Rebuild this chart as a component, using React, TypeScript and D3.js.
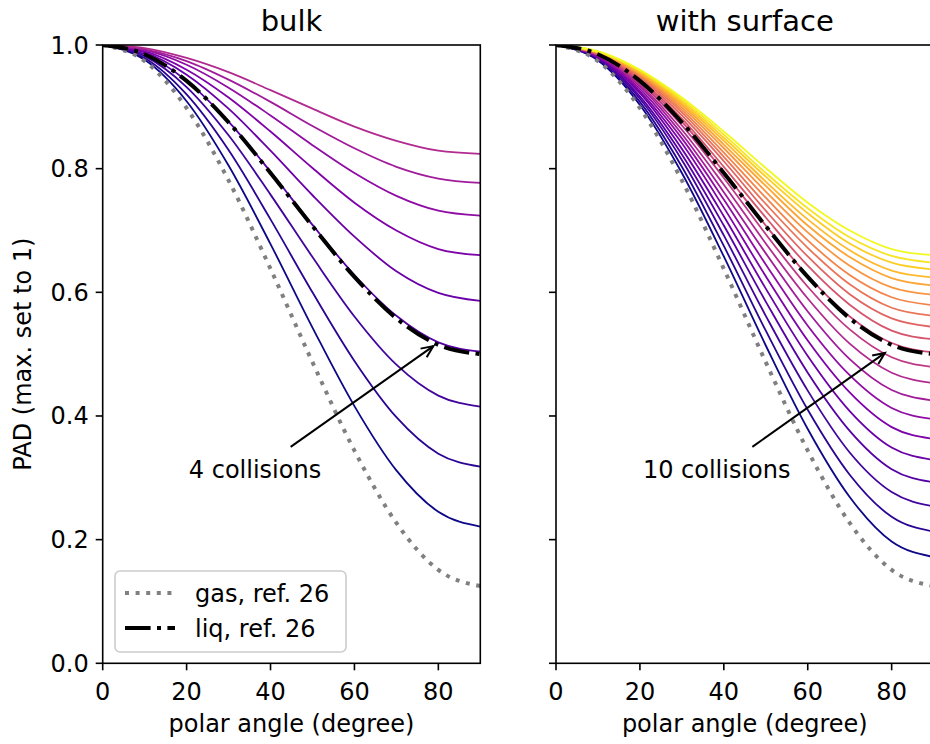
import React from 'react';
import * as d3 from 'd3';

const ANGLES = [0, 10, 20, 30, 40, 50, 60, 70, 80, 90];

// reference curves
const GAS = [1, 0.974, 0.898, 0.781, 0.638, 0.487, 0.344, 0.227, 0.151, 0.125];
const LIQ = [1, 0.985, 0.942, 0.875, 0.793, 0.707, 0.625, 0.558, 0.515, 0.5];

// bulk: 1 .. 9 collisions
const BULK = [
  [1, 0.976, 0.909, 0.805, 0.678, 0.543, 0.416, 0.312, 0.245, 0.221],
  [1, 0.979, 0.92, 0.83, 0.718, 0.6, 0.489, 0.398, 0.339, 0.318],
  [1, 0.982, 0.932, 0.854, 0.758, 0.657, 0.561, 0.483, 0.433, 0.415],
  [1, 0.985, 0.942, 0.876, 0.795, 0.709, 0.628, 0.562, 0.519, 0.504],
  [1, 0.988, 0.952, 0.897, 0.829, 0.757, 0.69, 0.634, 0.599, 0.586],
  [1, 0.99, 0.96, 0.915, 0.86, 0.801, 0.745, 0.7, 0.67, 0.66],
  [1, 0.992, 0.968, 0.931, 0.886, 0.838, 0.793, 0.756, 0.732, 0.724],
  [1, 0.993, 0.974, 0.944, 0.908, 0.869, 0.833, 0.803, 0.784, 0.777],
  [1, 0.995, 0.979, 0.956, 0.927, 0.897, 0.868, 0.845, 0.829, 0.824],
];

// with surface: 1 .. 21 collisions
const SURFACE = [
  [1, 0.975, 0.903, 0.793, 0.658, 0.514, 0.379, 0.269, 0.197, 0.172],
  [1, 0.976, 0.908, 0.803, 0.675, 0.538, 0.41, 0.305, 0.237, 0.213],
  [1, 0.978, 0.913, 0.814, 0.692, 0.562, 0.441, 0.341, 0.277, 0.254],
  [1, 0.979, 0.917, 0.823, 0.708, 0.585, 0.47, 0.376, 0.314, 0.293],
  [1, 0.98, 0.922, 0.832, 0.723, 0.606, 0.497, 0.408, 0.349, 0.329],
  [1, 0.981, 0.925, 0.841, 0.737, 0.626, 0.522, 0.438, 0.382, 0.363],
  [1, 0.982, 0.929, 0.849, 0.75, 0.645, 0.546, 0.466, 0.413, 0.395],
  [1, 0.983, 0.933, 0.856, 0.762, 0.663, 0.569, 0.492, 0.442, 0.425],
  [1, 0.984, 0.936, 0.863, 0.774, 0.679, 0.59, 0.517, 0.47, 0.453],
  [1, 0.984, 0.939, 0.87, 0.785, 0.694, 0.609, 0.54, 0.495, 0.479],
  [1, 0.985, 0.942, 0.876, 0.795, 0.708, 0.627, 0.561, 0.518, 0.503],
  [1, 0.986, 0.944, 0.881, 0.803, 0.721, 0.643, 0.58, 0.538, 0.524],
  [1, 0.986, 0.947, 0.886, 0.812, 0.732, 0.658, 0.597, 0.558, 0.544],
  [1, 0.987, 0.949, 0.891, 0.819, 0.743, 0.672, 0.613, 0.575, 0.562],
  [1, 0.987, 0.951, 0.895, 0.826, 0.753, 0.684, 0.628, 0.592, 0.579],
  [1, 0.988, 0.953, 0.899, 0.833, 0.763, 0.697, 0.643, 0.608, 0.596],
  [1, 0.988, 0.954, 0.903, 0.839, 0.772, 0.708, 0.657, 0.623, 0.611],
  [1, 0.989, 0.956, 0.906, 0.845, 0.779, 0.718, 0.668, 0.635, 0.624],
  [1, 0.989, 0.958, 0.909, 0.85, 0.787, 0.728, 0.679, 0.648, 0.637],
  [1, 0.989, 0.959, 0.912, 0.855, 0.793, 0.736, 0.689, 0.659, 0.648],
  [1, 0.99, 0.96, 0.915, 0.86, 0.801, 0.745, 0.7, 0.67, 0.66],
];

const X_TICKS = [0, 20, 40, 60, 80];
const Y_TICKS = [0, 0.2, 0.4, 0.6, 0.8, 1.0];

const W = 930;
const H = 744;
const FONT = 'DejaVu Sans, sans-serif';
const TOP = 45;
const BOTTOM = 663.3;
const N_COLORS = 20;

const y = d3.scaleLinear().domain([0, 1]).range([BOTTOM, TOP]);

type PanelProps = {
  id: string;
  x0: number;
  x1: number;
  title: string;
  curves: number[][];
  yLabels: boolean;
  note: { text: string; head: [number, number]; tail: [number, number]; at: [number, number] };
};

const Panel = ({ id, x0, x1, title, curves, yLabels, note }: PanelProps) => {
  const x = d3.scaleLinear().domain([0, 90]).range([x0, x1]);
  const line = d3
    .line<number>()
    .x((_, i) => x(ANGLES[i]))
    .y((d) => y(d))
    .curve(d3.curveMonotoneX);

  // arrow "->" style head
  const hx = x(note.head[0]);
  const hy = y(note.head[1]);
  const tx = x(note.tail[0]);
  const ty = y(note.tail[1]);
  const ang = Math.atan2(ty - hy, tx - hx);
  const hl = 13;
  const spread = 0.42;
  const arm = (s: number) => `${hx + hl * Math.cos(ang + s)},${hy + hl * Math.sin(ang + s)}`;

  return (
    <g>
      <defs>
        <clipPath id={id}>
          <rect x={x0} y={TOP} width={x1 - x0} height={BOTTOM - TOP} />
        </clipPath>
      </defs>
      <g clipPath={`url(#${id})`}>
        {curves.map((c, i) => (
          <path
            key={i}
            d={line(c) || ''}
            fill="none"
            stroke={d3.interpolatePlasma(i / N_COLORS)}
            strokeWidth={1.8}
          />
        ))}
        <path d={line(GAS) || ''} fill="none" stroke="#808080" strokeWidth={4} strokeDasharray="4 6.6" />
        <path d={line(LIQ) || ''} fill="none" stroke="#000" strokeWidth={4} strokeDasharray="25.6 6.4 4 6.4" />
      </g>

      {/* annotation */}
      <line x1={tx} y1={ty} x2={hx} y2={hy} stroke="#000" strokeWidth={2} />
      <polyline points={`${arm(spread)} ${hx},${hy} ${arm(-spread)}`} fill="none" stroke="#000" strokeWidth={2} />
      <text x={x(note.at[0])} y={y(note.at[1])} textAnchor="middle" fontSize={24} fontFamily={FONT}>
        {note.text}
      </text>

      {/* spines */}
      <rect x={x0} y={TOP} width={x1 - x0} height={BOTTOM - TOP} fill="none" stroke="#000" strokeWidth={1.6} />

      {/* x axis */}
      {X_TICKS.map((t) => (
        <g key={t}>
          <line x1={x(t)} x2={x(t)} y1={BOTTOM} y2={BOTTOM + 7} stroke="#000" strokeWidth={1.6} />
          <text x={x(t)} y={700} textAnchor="middle" fontSize={24} fontFamily={FONT}>
            {t}
          </text>
        </g>
      ))}
      <text x={(x0 + x1) / 2} y={732} textAnchor="middle" fontSize={24} fontFamily={FONT}>
        polar angle (degree)
      </text>

      {/* y axis */}
      {Y_TICKS.map((t) => (
        <g key={t}>
          <line x1={x0 - 7} x2={x0} y1={y(t)} y2={y(t)} stroke="#000" strokeWidth={1.6} />
          {yLabels && (
            <text x={x0 - 14} y={y(t) + 8.5} textAnchor="end" fontSize={24} fontFamily={FONT}>
              {t.toFixed(1)}
            </text>
          )}
        </g>
      ))}

      <text x={(x0 + x1) / 2} y={31} textAnchor="middle" fontSize={29} fontFamily={FONT}>
        {title}
      </text>
    </g>
  );
};

const App = () => {
  return (
    <svg
      width={W}
      height={H}
      style={{ position: 'absolute', left: 0, top: 0, background: '#fff' }}
    >
      <rect width={W} height={H} fill="#fff" />
      <Panel
        id="clip-bulk"
        x0={102.7}
        x1={480.3}
        title="bulk"
        curves={BULK}
        yLabels={true}
        note={{ text: '4 collisions', head: [78.8, 0.513], tail: [44.8, 0.35], at: [36.3, 0.3] }}
      />
      <Panel
        id="clip-surface"
        x0={556}
        x1={933.6}
        title="with surface"
        curves={SURFACE}
        yLabels={false}
        note={{ text: '10 collisions', head: [78.4, 0.502], tail: [46.8, 0.35], at: [38.3, 0.3] }}
      />

      <text
        transform={`translate(31,${(TOP + BOTTOM) / 2}) rotate(-90)`}
        textAnchor="middle"
        fontSize={24}
        fontFamily={FONT}
      >
        PAD (max. set to 1)
      </text>

      {/* legend */}
      <g>
        <rect x={115} y={571} width={231} height={81} rx={5} fill="#fff" fillOpacity={0.8} stroke="#ccc" strokeWidth={1.6} />
        <line x1={125} x2={175} y1={593} y2={593} stroke="#808080" strokeWidth={4} strokeDasharray="4 6.6" />
        <text x={195} y={601.5} fontSize={24} fontFamily={FONT}>
          gas, ref. 26
        </text>
        <line x1={125} x2={175} y1={628} y2={628} stroke="#000" strokeWidth={4} strokeDasharray="25.6 6.4 4 6.4" />
        <text x={195} y={636.5} fontSize={24} fontFamily={FONT}>
          liq, ref. 26
        </text>
      </g>
    </svg>
  );
};

export default App;
